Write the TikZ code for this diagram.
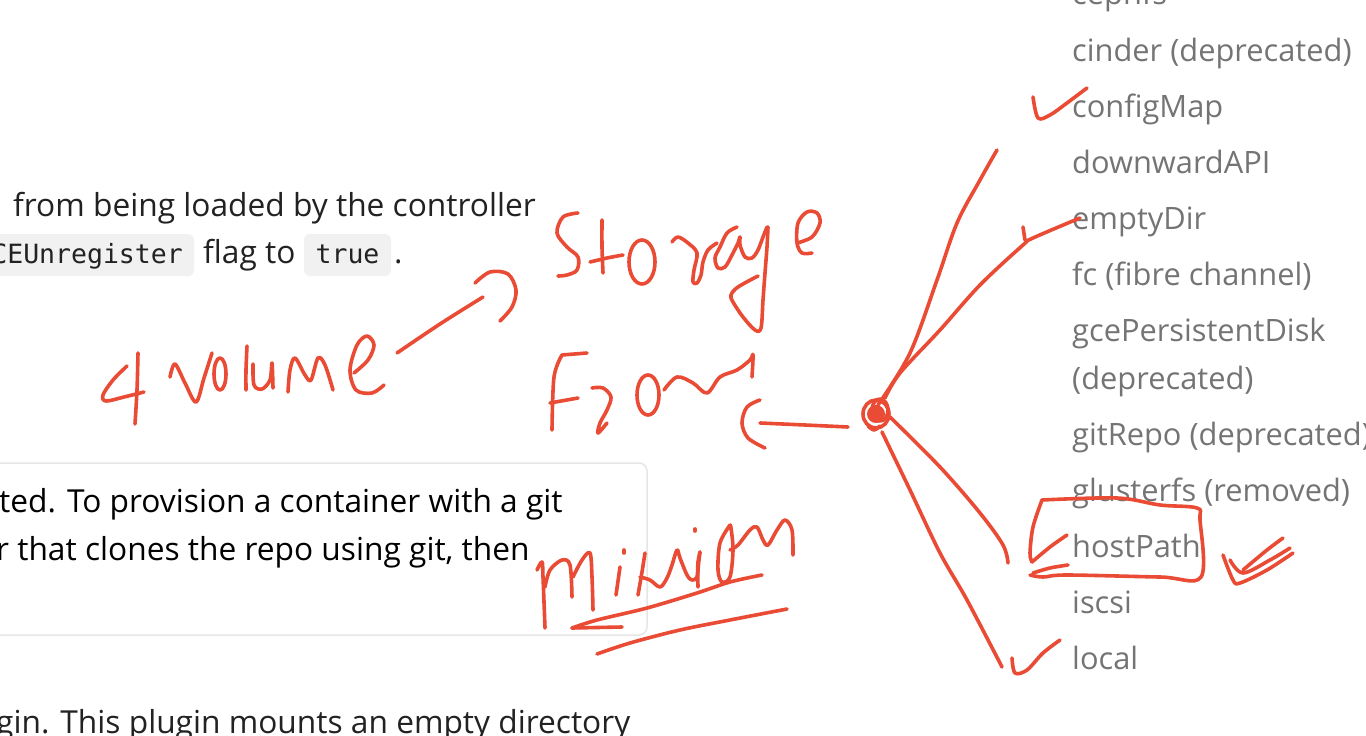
\documentclass[tikz,border=0pt]{standalone}
\usepackage{fontspec}
\usetikzlibrary{calc}
\setmainfont{Open Sans}
\setmonofont{DejaVu Sans Mono}
\definecolor{ink}{HTML}{E94B35}
\definecolor{bodytext}{HTML}{222222}
\definecolor{navtext}{HTML}{747474}
\definecolor{codebg}{HTML}{F1F1F1}
\definecolor{frameline}{HTML}{E6E6E6}
\begin{document}
\begin{tikzpicture}[x=1pt,y=-1pt,
  body/.style={inner sep=0pt, anchor=base west, text=bodytext,
    font=\fontsize{31.7}{38}\selectfont},
  nav/.style={inner sep=0pt, anchor=base west, text=navtext,
    font=\fontsize{30.8}{37}\selectfont},
  code/.style={inner sep=0pt, text=bodytext,
    font=\ttfamily\fontsize{26.5}{32}\selectfont},
  codebox/.style={fill=codebg, rounded corners=6pt},
  ink/.style={draw=ink, line width=3.6pt, line cap=round, line join=round},
  blob/.style={fill=ink, draw=none},
  stroke/.style={ink, smooth, tension=0.55}]
\useasboundingbox (0,0) rectangle (1366,736);
\clip (0,0) rectangle (1366,736);
\fill[white] (0,0) rectangle (1366,736);

% ---- page text, left column ----
\node[body] (l1) at (13,216) {from being loaded by the controller};
\fill[codebox] (-12,234) rectangle (194,276);
\node[code, anchor=base east] (flagname) at (183,263) {CEUnregister};
\node[body] (l2) at (203,263) {flag to};
\fill[codebox] (304,234) rectangle (391,276);
\node[code, anchor=base] (truev) at (347.5,263) {true};
\node[body] (dot) at (394,263) {.};

% note box
\draw[frameline, line width=1.5pt, rounded corners=8pt, fill=white]
  (-20,463) rectangle (647,635);
\node[body, text=black] (n1) at (-1,512) {ted. To provision a container with a git};
\node[body, text=black] (n2) at (-4,560) {r that clones the repo using git, then};

\node[body] (l3) at (-4,733) {gin. This plugin mounts an empty directory};

% ---- volume type list, right column ----
\foreach \name/\txt/\yy in {
  cephfs/cephfs/5, cinder/cinder (deprecated)/61, configmap/configMap/117,
  downward/downwardAPI/173, emptydir/emptyDir/229, fc/fc (fibre channel)/285,
  gce/gcePersistentDisk/341, gcedep/(deprecated)/389,
  gitrepo/gitRepo (deprecated)/445, gluster/glusterfs (removed)/501,
  hostpath/hostPath/557, iscsi/iscsi/613, local/local/669}
  \node[nav] (\name) at (1072,\yy) {\txt};

% ---- handwritten notes ----
% "4 volume" with arrow
\draw[stroke] plot coordinates {(127,366) (113,380) (103,395) (106,401) (124,397) (144,392)};
\draw[stroke] plot coordinates {(138,353) (137,390) (135,424)};
\draw[stroke] plot coordinates {(170,377) (175,364) (185,383) (196,402) (204,378) (212,353)};
\draw[ink] (220,374) ellipse [x radius=6pt, y radius=16pt];
\draw[stroke] plot coordinates {(247,346) (246,370) (246,390)};
\draw[stroke] plot coordinates {(253,364) (254,385) (262,389) (270,380) (272,363) (273,388)};
\draw[stroke] plot coordinates {(288,392) (290,370) (295,358) (305,375) (311,380) (318,358) (325,365) (333,390)};
\draw[stroke] plot coordinates {(354,373) (368,360) (374,345) (367,336) (357,345) (350,370) (356,390) (372,393) (384,385)};
\draw[stroke] plot coordinates {(397,353) (440,324) (483,297)};
\draw[stroke] plot coordinates {(475,283) (490,272) (508,274) (516,290) (512,307) (500,321)};

% "Storage"
\draw[stroke] plot coordinates {(578,213) (563,217) (557,233) (567,247) (578,257) (577,270) (567,275) (558,276)};
\draw[stroke] plot coordinates {(602,220) (602,247) (603,273)};
\draw[stroke] plot coordinates {(590,262) (607,258) (623,255)};
\draw[ink] (642,262) ellipse [x radius=13pt, y radius=22pt];
\draw[stroke] plot coordinates {(672,242) (678,237) (688,243) (697,253) (694,270) (693,282) (697,283) (701,275) (703,262) (708,250) (717,243)};
\draw[stroke] plot coordinates {(737,227) (727,233) (720,247) (715,258) (718,268) (725,267) (732,255) (738,243) (740,237) (740,245) (745,257) (752,258) (758,250) (763,237) (767,227)};
\draw[stroke] plot coordinates {(768,227) (767,247) (765,273) (763,300) (761,328) (755,330) (743,317) (733,302) (731,295) (738,287) (758,276)};
\draw[stroke] plot coordinates {(797,243) (812,237) (820,223) (817,213) (807,212) (798,223) (797,243) (802,253) (812,253)};

% "From" with arrow to the hub
\draw[stroke] plot coordinates {(562,355) (587,353)};
\draw[stroke] plot coordinates {(562,355) (554,377) (552,430)};
\draw[stroke] plot coordinates {(550,403) (578,398)};
\draw[stroke] plot coordinates {(592,388) (603,388) (611,397) (607,410) (600,423) (598,433) (607,423)};
\draw[ink] (648,395) ellipse [x radius=11pt, y radius=20pt];
\draw[stroke] plot coordinates {(664,390) (677,377) (693,383) (707,393) (720,377) (737,370) (750,360) (753,355) (752,377)};

% hub of the volume links: a scribbled blob
\coordinate (hub) at (876,414);
\fill[blob] (hub) circle [radius=9pt];
\draw[ink] (hub) ellipse [x radius=13pt, y radius=14pt];
\draw[ink] ($(hub)+(4,-4)$) ellipse [x radius=8pt, y radius=11pt];
\draw[stroke] plot coordinates {($(hub)+(-8,12)$) ($(hub)+(-2,16)$) ($(hub)+(4,12)$)};
\draw[stroke] plot coordinates {(848,427) (805,425) (760,423)};
\draw[stroke] plot coordinates {(760,400) (747,407) (742,423) (748,438) (765,448)};

% links from the hub
\draw[stroke] plot coordinates {(878,405) (910,353) (937,280) (957,223) (980,180) (997,150)};
\draw[stroke] plot coordinates {(885,398) (900,373) (940,330) (980,285) (1023,245) (1033,238) (1080,218)};
\draw[stroke] plot coordinates {(1023,227) (1025,240)};
\draw[stroke] plot coordinates {(890,417) (940,467) (980,513) (1003,545) (1008,563)};
\draw[stroke] plot coordinates {(882,432) (910,490) (940,553) (967,600) (1002,667)};

% check marks
\draw[stroke] plot coordinates {(1033,97) (1038,118) (1050,115) (1067,103) (1087,88)};
\draw[stroke] plot coordinates {(1012,658) (1015,673) (1027,670) (1043,653) (1060,640)};

% hostPath frame and marks
\draw[stroke] plot coordinates {(1042,500) (1117,498) (1160,505) (1197,508) (1200,520) (1201,577) (1160,577) (1067,575) (1043,577) (1030,575)};
\draw[stroke] plot coordinates {(1042,500) (1033,527) (1030,553) (1032,562)};
\draw[stroke] plot coordinates {(1067,535) (1050,547) (1032,562)};
\draw[stroke] plot coordinates {(1068,565) (1050,568) (1033,573)};
\draw[stroke] plot coordinates {(1223,555) (1233,580) (1240,583) (1267,570) (1293,553)};
\draw[stroke] plot coordinates {(1243,570) (1267,550) (1283,538)};
\draw[stroke] plot coordinates {(1230,560) (1243,573) (1270,560) (1290,548)};

% "minion" underlined
\draw[stroke] plot coordinates {(537,570) (542,562) (543,577) (545,628)};
\draw[stroke] plot coordinates {(545,587) (550,570) (562,560) (570,565) (572,597)};
\draw[stroke] plot coordinates {(573,577) (582,560) (590,553) (592,577) (593,610)};
\draw[stroke] plot coordinates {(620,567) (616,595)};
\draw[stroke] plot coordinates {(624,550) (624,553)};
\draw[stroke] plot coordinates {(645,553) (642,572) (638,595)};
\draw[stroke] plot coordinates {(640,577) (650,580) (660,587) (667,578) (672,565) (677,550) (680,558) (687,575) (692,580) (697,577) (698,562) (700,552)};
\draw[stroke] plot coordinates {(700,552) (698,570) (698,587)};
\draw[stroke] plot coordinates {(695,529) (695,531)};
\draw[stroke] plot coordinates {(730,525) (720,543) (718,570) (722,582) (730,577) (733,550) (731,528) (730,525)};
\draw[stroke] plot coordinates {(730,550) (738,545) (750,530) (757,527) (763,540) (768,545) (777,530) (785,520) (792,530) (793,555)};
\draw[stroke] plot coordinates {(572,628) (597,620) (647,608) (697,593) (730,582) (762,575)};
\draw[stroke] plot coordinates {(572,628) (622,627)};
\draw[stroke] plot coordinates {(597,654) (630,643) (680,630) (730,620) (787,609)};
\end{tikzpicture}
\end{document}
